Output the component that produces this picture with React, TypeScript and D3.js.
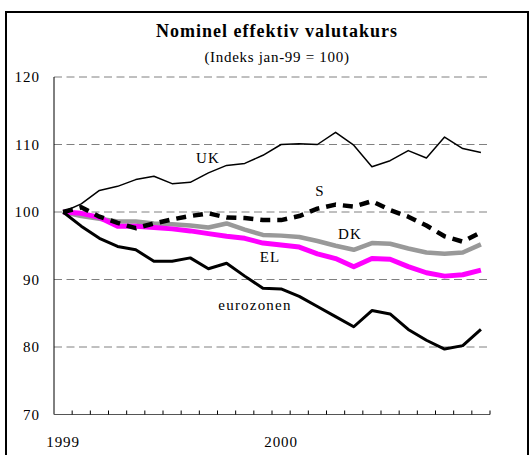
import React from "react";
import * as d3 from "d3";

const months = ["jan","feb","mar","apr","maj","jun","jul","aug","sep","okt","nov","dec"];
const categories: string[] = [
  ...months.map((m) => m + "-99"),
  ...months.map((m) => m + "-00"),
];
const yTicks = [70, 80, 90, 100, 110, 120];
const xTickLabels = [
  { cat: "jan-99", label: "1999" },
  { cat: "jan-00", label: "2000" },
];

const ukValues = [100, 101.2, 103.2, 103.8, 104.8, 105.3, 104.2, 104.4, 105.8, 106.9, 107.2, 108.4, 110.0, 110.1, 110.0, 111.8, 109.9, 106.7, 107.6, 109.1, 108.0, 111.1, 109.4, 108.8];
const sValues = [100, 100.7, 99.3, 98.4, 97.6, 98.3, 98.9, 99.4, 99.8, 99.2, 99.1, 98.8, 98.8, 99.4, 100.5, 101.1, 100.8, 101.6, 100.3, 99.3, 98.0, 96.4, 95.6, 97.0];
const dkValues = [100, 99.4, 99.0, 98.6, 98.6, 98.3, 98.2, 98.0, 97.7, 98.3, 97.4, 96.6, 96.5, 96.3, 95.7, 95.0, 94.4, 95.4, 95.3, 94.6, 94.0, 93.8, 94.0, 95.2];
const elValues = [100, 99.8, 99.2, 97.9, 97.9, 97.7, 97.5, 97.2, 96.8, 96.4, 96.1, 95.4, 95.1, 94.8, 93.8, 93.1, 91.9, 93.1, 93.0, 91.9, 91.0, 90.5, 90.7, 91.4];
const euroValues = [100, 97.9, 96.1, 94.9, 94.4, 92.7, 92.7, 93.2, 91.6, 92.4, 90.5, 88.7, 88.6, 87.5, 86.0, 84.5, 83.0, 85.4, 84.9, 82.6, 81.0, 79.7, 80.2, 82.6];

const seriesNames = ["DK", "EL", "eurozonen", "UK", "S"];

const FONT = "Liberation Serif, DejaVu Serif, Times New Roman, serif";

export default function App() {
  const W = 530, H = 455;
  const left = 54, right = 490, top = 77, bottom = 414.5;
  const x = d3.scaleBand<string>().domain(categories).range([left, right]).padding(0);
  const y = d3.scaleLinear().domain([70, 120]).range([bottom, top]);
  const cx = (c: string) => (x(c) as number) + x.bandwidth() / 2;

  const line = d3
    .line<number>()
    .x((_, i) => cx(categories[i]))
    .y((v) => y(v));

  const series = [
    { name: seriesNames[0], values: dkValues, stroke: "#999999", width: 4.5, dash: undefined },
    { name: seriesNames[1], values: elValues, stroke: "#ff00ff", width: 5, dash: undefined },
    { name: seriesNames[2], values: euroValues, stroke: "#000000", width: 3, dash: undefined },
    { name: seriesNames[3], values: ukValues, stroke: "#000000", width: 1.5, dash: undefined },
    { name: seriesNames[4], values: sValues, stroke: "#000000", width: 4.5, dash: "10,7" },
  ];

  const labels = [
    { text: "UK", x: 208, y: 163 },
    { text: "S", x: 320, y: 196 },
    { text: "DK", x: 350, y: 239 },
    { text: "EL", x: 270, y: 262 },
    { text: "eurozonen", x: 255, y: 310 },
  ];

  const ts = { fontFamily: FONT };

  return (
    <svg width={W} height={H} style={{ position: "absolute", left: 0, top: 0, background: "#fff", fontFamily: FONT }}>
      <rect x={0} y={0} width={W} height={H} fill="#fff" />
      <rect x={6} y={12} width={522} height={470} fill="none" stroke="#000" strokeWidth={2} />
      <text x={277} y={37} textAnchor="middle" fontSize={18} fontWeight="bold" letterSpacing={1} style={ts}>
        Nominel effektiv valutakurs
      </text>
      <text x={277} y={62} textAnchor="middle" fontSize={15} letterSpacing={0.7} style={ts}>
        (Indeks jan-99 = 100)
      </text>
      {yTicks.filter((t) => t > 70).map((t) => (
        <line key={t} x1={left} x2={right} y1={y(t)} y2={y(t)} stroke="#808080" strokeWidth={1} strokeDasharray="8,4.5" />
      ))}
      <line x1={left} x2={left} y1={top} y2={bottom} stroke="#000" strokeWidth={1} />
      <line x1={left} x2={right} y1={bottom} y2={bottom} stroke="#555" strokeWidth={1} />
      {categories.map((c) => (
        <line key={c} x1={(x(c) as number) + x.bandwidth()} x2={(x(c) as number) + x.bandwidth()} y1={bottom - 4} y2={bottom} stroke="#000" strokeWidth={1} />
      ))}
      {yTicks.map((t) => (
        <text key={t} x={40} y={y(t) + 5} textAnchor="end" fontSize={15} letterSpacing={1} style={ts}>
          {t}
        </text>
      ))}
      {xTickLabels.map((d) => (
        <text key={d.label} x={cx(d.cat)} y={447} textAnchor="middle" fontSize={15} letterSpacing={0.9} style={ts}>
          {d.label}
        </text>
      ))}
      {series.map((s) => (
        <path key={s.name} d={line(s.values) || ""} fill="none" stroke={s.stroke} strokeWidth={s.width} strokeDasharray={s.dash} strokeLinejoin="round" />
      ))}
      {labels.map((l) => (
        <text key={l.text} x={l.x} y={l.y} textAnchor="middle" fontSize={15} letterSpacing={1.2} style={ts}>
          {l.text}
        </text>
      ))}
    </svg>
  );
}
